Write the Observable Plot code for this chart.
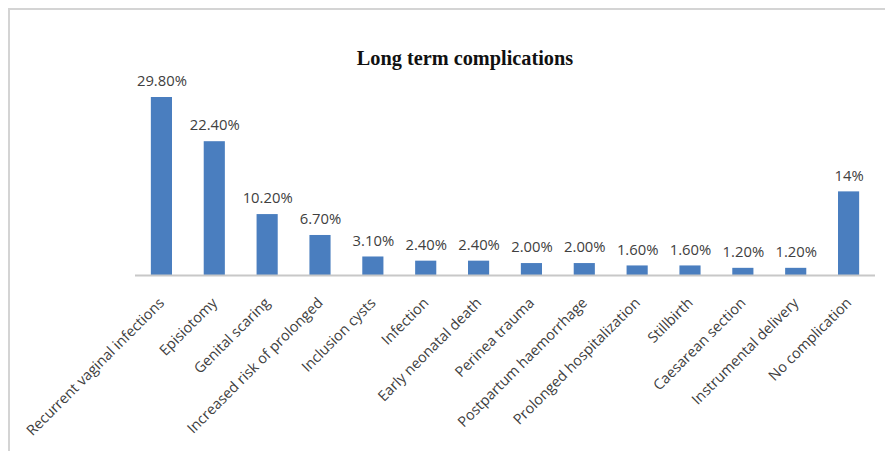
<!DOCTYPE html>
<html>
<head>
<meta charset="utf-8">
<script src="https://cdn.jsdelivr.net/npm/d3@7"></script>
<script src="https://cdn.jsdelivr.net/npm/@observablehq/plot@0.6"></script>
<style>
  html, body { margin: 0; padding: 0; background: #fff; }
  #wrap { position: relative; width: 885px; height: 451px; overflow: hidden; }
  #frame { position: absolute; left: 8px; top: 8px; width: 1000px; height: 600px; border: 2px solid #d4d4d4; box-sizing: border-box; }
  #title { position: absolute; left: 0; width: 930px; top: 47px; text-align: center;
           font: bold 20.3px "Liberation Serif", "Times New Roman", serif; color: #111; }
  #chart { position: absolute; left: 0; top: 0; }
</style>
</head>
<body>
<div id="wrap">
  <div id="frame"></div>
  <div id="chart"></div>
  <div id="title">Long term complications</div>
</div>
<script>
const categories = [
  "Recurrent vaginal infections", "Episiotomy", "Genital scaring", "Increased risk of prolonged",
  "Inclusion cysts", "Infection", "Early neonatal death", "Perinea trauma",
  "Postpartum haemorrhage", "Prolonged hospitalization", "Stillbirth", "Caesarean section",
  "Instrumental delivery", "No complication"
];
const values = [29.8, 22.4, 10.2, 6.7, 3.1, 2.4, 2.4, 2.0, 2.0, 1.6, 1.6, 1.2, 1.2, 14];
const valueLabels = ["29.80%", "22.40%", "10.20%", "6.70%", "3.10%", "2.40%", "2.40%", "2.00%",
  "2.00%", "1.60%", "1.60%", "1.20%", "1.20%", "14%"];

const data = categories.map((c, i) => ({category: c, value: values[i], label: valueLabels[i]}));

const chart = Plot.plot({
  width: 885,
  height: 451,
  marginLeft: 135,
  marginRight: 10,
  marginTop: 97,
  marginBottom: 176,
  style: {background: "transparent", fontFamily: "'Open Sans', sans-serif", color: "#404040", overflow: "visible"},
  x: {domain: categories, paddingInner: 0.6, paddingOuter: 0.3, round: false, label: null},
  y: {domain: [0, 29.8], axis: null},
  marks: [
    Plot.barY(data, {x: "category", y: "value", fill: "#4a7ebf"}),
    Plot.ruleY([0], {stroke: "#c8c8c8", strokeWidth: 2}),
    Plot.text(data, {x: "category", y: "value", text: "label", dy: -16, fontSize: 14.8, fill: "#404040"}),
    Plot.axisX({tickSize: 0, tickPadding: 25, tickRotate: -45, fontSize: 14.5, dx: 0, fill: "#404040", label: null})
  ]
});
document.getElementById("chart").appendChild(chart);
</script>
</body>
</html>
